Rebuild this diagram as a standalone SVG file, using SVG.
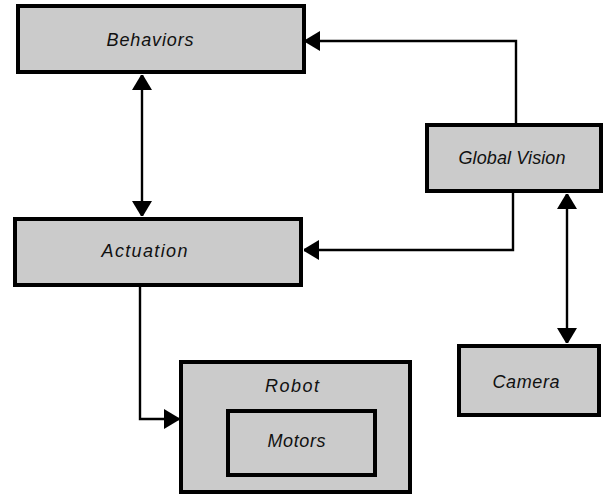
<svg xmlns="http://www.w3.org/2000/svg" width="613" height="496" viewBox="0 0 613 496">
<style>
.box{fill:#cbcbcb;stroke:#000;stroke-width:4}
.lbl{font-family:"Liberation Sans",Arial,sans-serif;font-style:italic;font-size:18px;fill:#111;text-anchor:middle}
.con{fill:none;stroke:#000;stroke-width:2.4}
</style>
<defs>
<marker id="ah" viewBox="0 0 15 22" refX="15" refY="11" markerWidth="15" markerHeight="22" markerUnits="userSpaceOnUse" orient="auto-start-reverse">
<path d="M0,1 L15,10 L15,12 L0,21 z" fill="#000"/>
</marker>
</defs>
<rect width="613" height="496" fill="#fff"/>
<g id="connectors">
<path class="con" d="M142,75 L142,216" marker-start="url(#ah)" marker-end="url(#ah)"/>
<path class="con" d="M516,123 L516,41 L305,41" marker-end="url(#ah)"/>
<path class="con" d="M513,193 L513,250 L304,250" marker-end="url(#ah)"/>
<path class="con" d="M140,287 L140,419 L179,419" marker-end="url(#ah)"/>
<path class="con" d="M567,194 L567,343" marker-start="url(#ah)" marker-end="url(#ah)"/>
</g>
<g id="behaviors">
<rect class="box" x="18" y="6" width="286" height="66"/>
<text class="lbl" x="150" y="46" textLength="87" lengthAdjust="spacing">Behaviors</text>
</g>
<g id="global-vision">
<rect class="box" x="427" y="125" width="174" height="66"/>
<text class="lbl" x="512" y="164" textLength="107" lengthAdjust="spacing">Global Vision</text>
</g>
<g id="actuation">
<rect class="box" x="15" y="219" width="286" height="66"/>
<text class="lbl" x="144.5" y="257" textLength="86" lengthAdjust="spacing">Actuation</text>
</g>
<g id="robot">
<rect class="box" x="181" y="362" width="229" height="130"/>
<text class="lbl" x="292" y="392" textLength="54" lengthAdjust="spacing">Robot</text>
</g>
<g id="motors">
<rect class="box" x="228" y="411" width="147" height="64"/>
<text class="lbl" x="296.5" y="447" textLength="58" lengthAdjust="spacing">Motors</text>
</g>
<g id="camera">
<rect class="box" x="459" y="346" width="140" height="69"/>
<text class="lbl" x="526" y="388" textLength="67" lengthAdjust="spacing">Camera</text>
</g>
</svg>
